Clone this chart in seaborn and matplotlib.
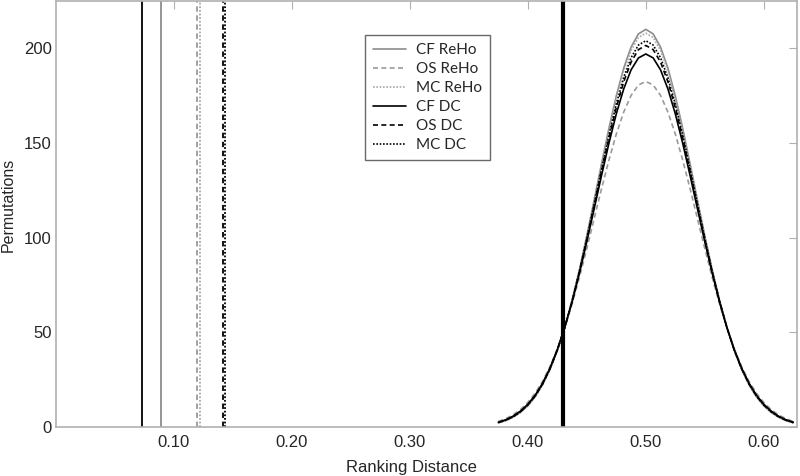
import numpy as np
import pandas as pd
import matplotlib
matplotlib.use("Agg")
import matplotlib.pyplot as plt
import seaborn as sns

# ranking distance grid for the permutation curves
x_perm = [0.375, 0.38125, 0.3875, 0.39375, 0.40, 0.40625, 0.4125, 0.41875, 0.425, 0.43125,
          0.4375, 0.44375, 0.45, 0.45625, 0.4625, 0.46875, 0.475, 0.48125, 0.4875, 0.49375,
          0.50, 0.50625, 0.5125, 0.51875, 0.525, 0.53125, 0.5375, 0.54375, 0.55, 0.55625,
          0.5625, 0.56875, 0.575, 0.58125, 0.5875, 0.59375, 0.60, 0.60625, 0.6125, 0.61875, 0.625]

# half curves (peak outward), mirrored below
cf_reho_half = [210, 207.6, 200.6, 189.5, 174.9, 157.8, 139.1, 119.9, 101.0, 83.1, 66.9,
                52.6, 40.4, 30.4, 22.3, 16.0, 11.2, 7.7, 5.2, 3.4, 2.2]
os_reho_half = [182.5, 180.6, 175.1, 166.3, 154.7, 141.0, 125.9, 110.1, 94.3, 79.1, 65.0,
                52.3, 41.3, 31.9, 24.1, 17.9, 13.0, 9.2, 6.4, 4.4, 2.9]
mc_reho_half = [208, 205.7, 198.8, 187.8, 173.4, 156.6, 138.2, 119.2, 100.5, 82.8, 66.8,
                52.6, 40.5, 30.5, 22.4, 16.1, 11.3, 7.8, 5.2, 3.4, 2.2]
cf_dc_half = [197, 194.9, 188.6, 178.5, 165.4, 149.9, 132.9, 115.3, 97.9, 81.3, 66.0,
              52.5, 40.8, 31.0, 23.1, 16.8, 12.0, 8.4, 5.7, 3.8, 2.5]
os_dc_half = [201.5, 199.3, 192.7, 182.3, 168.7, 152.6, 135.1, 116.9, 99.0, 81.9, 66.3,
              52.5, 40.7, 30.8, 22.8, 16.5, 11.7, 8.1, 5.5, 3.6, 2.4]
mc_dc_half = [204, 201.7, 195.0, 184.4, 170.5, 154.1, 136.3, 117.8, 99.6, 82.3, 66.5,
              52.6, 40.6, 30.7, 22.7, 16.4, 11.6, 8.0, 5.4, 3.6, 2.3]

# observed distances
obs_labels = ["CF ReHo", "OS ReHo", "MC ReHo", "CF DC", "OS DC", "MC DC"]
obs_values = [0.0887, 0.1198, 0.1220, 0.0731, 0.1413, 0.1435]
threshold = 0.43


def full(half):
    return half[::-1] + half[1:]


series = {
    "CF ReHo": full(cf_reho_half),
    "OS ReHo": full(os_reho_half),
    "MC ReHo": full(mc_reho_half),
    "CF DC": full(cf_dc_half),
    "OS DC": full(os_dc_half),
    "MC DC": full(mc_dc_half),
}

styles = {
    "CF ReHo": dict(color="#8c8c8c", ls="-"),
    "OS ReHo": dict(color="#9a9a9a", ls=(0, (3, 2))),
    "MC ReHo": dict(color="#a8a8a8", ls=(0, (1, 1))),
    "CF DC": dict(color="black", ls="-"),
    "OS DC": dict(color="black", ls=(0, (3, 2))),
    "MC DC": dict(color="black", ls=(0, (1, 1))),
}

sns.set_style("white")
plt.rcParams["font.family"] = ["Liberation Sans", "DejaVu Sans"]

fig = plt.figure(figsize=(8, 4.76), dpi=100)
ax = fig.add_axes([0.07, 0.103, 0.926, 0.895])

for name, vals in series.items():
    df = pd.DataFrame({"x": x_perm, "y": vals})
    st = styles[name]
    sns.lineplot(data=df, x="x", y="y", ax=ax, color=st["color"],
                 linestyle=st["ls"], linewidth=1.2, label=name)

for name, v in zip(obs_labels, obs_values):
    st = styles[name]
    ax.axvline(v, color=st["color"], linestyle=st["ls"], linewidth=1.3)

ax.axvline(threshold, color="black", linewidth=3)

ax.set_xlim(0, 0.628)
ax.set_ylim(0, 225)
ax.set_xticks([0.1, 0.2, 0.3, 0.4, 0.5, 0.6])
ax.set_xticklabels(["0.10", "0.20", "0.30", "0.40", "0.50", "0.60"])
ax.set_yticks([0, 50, 100, 150, 200])
ax.tick_params(axis="both", direction="in", length=6, color="#b0b0b0",
               labelsize=12, top=True, right=True)
ax.tick_params(axis="x", pad=6)
ax.tick_params(axis="y", pad=3)
for sp in ax.spines.values():
    sp.set_color("#b0b0b0")
    sp.set_linewidth(1.2)

ax.set_xlabel("Ranking Distance", fontsize=12, va="center")
ax.set_ylabel("Permutations", fontsize=11.5, va="center")
ax.xaxis.set_label_coords(0.48, -0.094)
ax.yaxis.set_label_coords(-0.065, 0.521)

leg = ax.legend(loc="upper left", bbox_to_anchor=(0.417, 0.920), borderaxespad=0,
                frameon=True, fancybox=False, edgecolor="#444444",
                handlelength=2.15, handletextpad=0.65, labelspacing=0.32, borderpad=0.55,
                prop={"family": ["Lato", "DejaVu Sans"], "size": 11})
leg.get_frame().set_linewidth(1.0)

fig.savefig("out.png", dpi=100)
